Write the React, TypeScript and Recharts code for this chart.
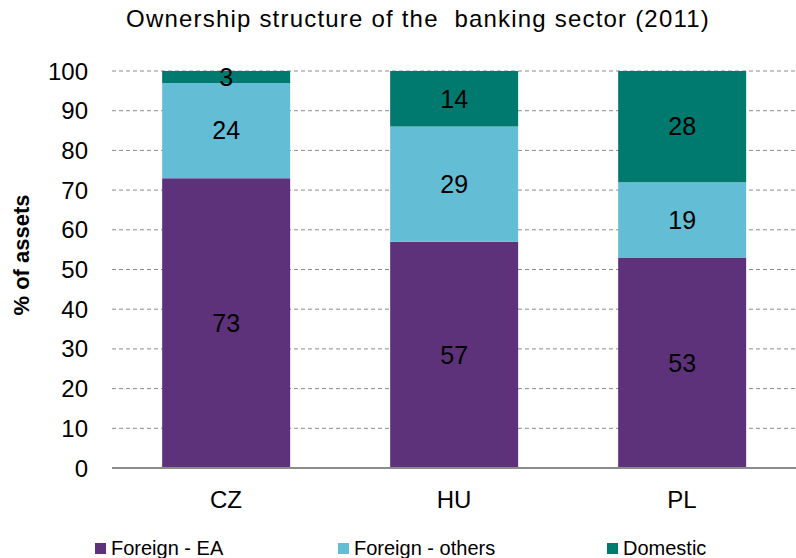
import React from "react";
import { BarChart, Bar, XAxis, YAxis, CartesianGrid, Legend, LabelList } from "recharts";

const categories = ["CZ", "HU", "PL"];
const foreignEA = [73, 57, 53];
const foreignOthers = [24, 29, 19];
const domestic = [3, 14, 28];
const yTicks = [0, 10, 20, 30, 40, 50, 60, 70, 80, 90, 100];
const seriesNames = ["Foreign - EA", "Foreign - others", "Domestic"];
const seriesColors = ["#5E327B", "#63BED5", "#007A6E"];

const data = categories.map((c, i) => ({
  name: c,
  ea: foreignEA[i],
  others: foreignOthers[i],
  dom: domestic[i],
}));

const FONT = "'Liberation Sans', Arial, sans-serif";

const legendPos = [95, 338, 607];

const LegendContent = () => (
  <div style={{ position: "relative", width: 796, height: 30, fontFamily: FONT }}>
    {seriesNames.map((n, i) => (
      <div
        key={n}
        style={{ position: "absolute", left: legendPos[i], top: 9, display: "flex", alignItems: "center", fontSize: 20, color: "#000", whiteSpace: "nowrap" }}
      >
        <span style={{ display: "inline-block", width: 11, height: 11, background: seriesColors[i], marginRight: 5 }} />
        <span>{n}</span>
      </div>
    ))}
  </div>
);

export default function App() {
  return (
    <div style={{ position: "absolute", left: 0, top: 0, width: 796, height: 558, background: "#fff", fontFamily: FONT, overflow: "hidden" }}>
      <div style={{ position: "absolute", left: 0, width: 836, top: 5, textAlign: "center", fontSize: 24, letterSpacing: 1.2, color: "#000", whiteSpace: "pre" }}>
        {"Ownership structure of the  banking sector (2011)"}
      </div>
      <div
        style={{ position: "absolute", left: 22, top: 255, transform: "translate(-50%, -50%) rotate(-90deg)", fontSize: 22, fontWeight: "bold", whiteSpace: "nowrap" }}
      >
        % of assets
      </div>
      <BarChart
        width={796}
        height={558}
        data={data}
        margin={{ top: 71, right: 0, bottom: 0, left: 0 }}
        barCategoryGap="22%"
      >
        <CartesianGrid vertical={false} stroke="#8c8c8c" strokeDasharray="4 3" />
        <XAxis
          dataKey="name"
          height={60}
          tickLine={false}
          axisLine={{ stroke: "#8c8c8c", strokeWidth: 2 }}
          tick={{ fontSize: 24, fill: "#000", fontFamily: FONT }}
          tickMargin={17}
        />
        <YAxis
          width={112}
          domain={[0, 100]}
          ticks={yTicks}
          tickLine={false}
          axisLine={false}
          tick={{ fontSize: 24, fill: "#000", fontFamily: FONT }}
          tickMargin={18}
          interval={0}
        />
        <Legend verticalAlign="bottom" height={30} content={<LegendContent />} />
        <Bar dataKey="ea" stackId="a" fill={seriesColors[0]} isAnimationActive={false}>
          <LabelList dataKey="ea" position="center" fill="#000" fontSize={25} fontFamily={FONT} />
        </Bar>
        <Bar dataKey="others" stackId="a" fill={seriesColors[1]} isAnimationActive={false}>
          <LabelList dataKey="others" position="center" fill="#000" fontSize={25} fontFamily={FONT} />
        </Bar>
        <Bar dataKey="dom" stackId="a" fill={seriesColors[2]} isAnimationActive={false}>
          <LabelList dataKey="dom" position="center" fill="#000" fontSize={25} fontFamily={FONT} />
        </Bar>
      </BarChart>
    </div>
  );
}
